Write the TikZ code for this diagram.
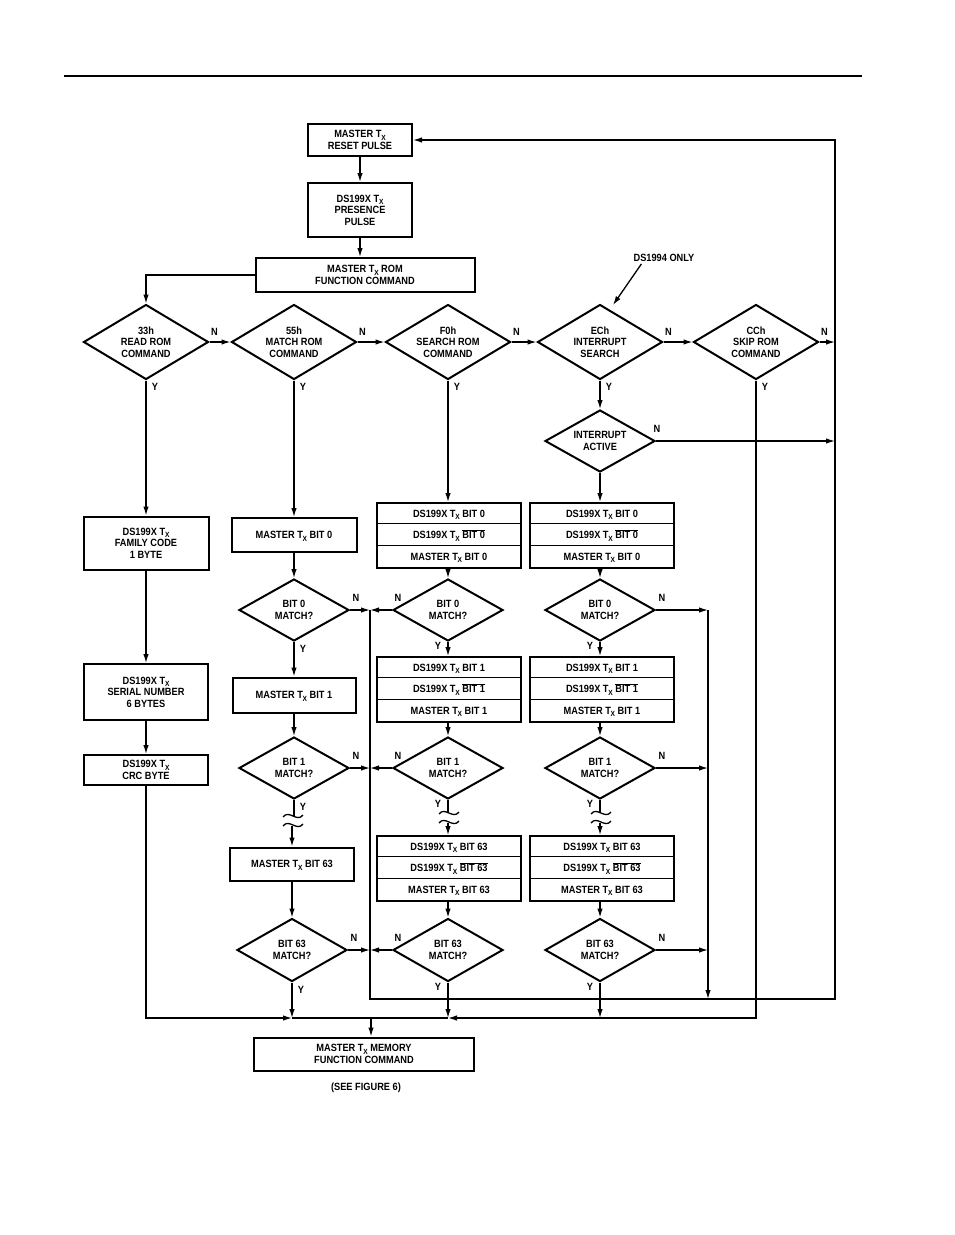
\documentclass[tikz,border=0pt]{standalone}
\usepackage{fontspec}
\setmainfont{Liberation Sans}[FakeStretch=0.88]
\usetikzlibrary{arrows.meta,shapes.geometric}
\newcommand\dgf{\bfseries\fontsize{10.5}{11.5}\selectfont}
\newcommand\Tx{T\kern-0.2pt\raisebox{-0.45ex}[0pt][0pt]{\fontsize{7.5}{7.5}\selectfont X}}
\newcommand\myovl[1]{\setbox0\hbox{#1}\rlap{\raisebox{\dimexpr\ht0+0.8pt\relax}[0pt][0pt]{\rule{\wd0}{0.8pt}}}\box0}
\tikzset{
  box/.style={draw, line width=2pt, inner sep=0pt, align=center, font=\dgf},
  dia/.style={diamond, draw, line width=2pt, inner sep=0pt},
  txt/.style={inner sep=0pt, align=center, font=\dgf},
  lab/.style={inner sep=0pt, font=\dgf},
  con/.style={line width=1.3pt},
  arr/.style={con, -{Latex[length=9pt,width=5.5pt]}},
}
% name, x, y, w, h, text
\newcommand\dianode[6]{%
  \node[dia, minimum width=#4pt, minimum height=#5pt] (#1) at (#2,#3) {};
  \node[txt] (#1t) at (#1) {#6};}
% name, x, ytop, row1, row2, row3
\newcommand\tribox[6]{%
  \node[draw, line width=2pt, inner sep=0pt, minimum width=144pt, minimum height=65pt, anchor=north] (#1) at (#2,#3) {};
  \draw[line width=1.4pt] ([yshift=-21.7pt]#1.north west) -- ([yshift=-21.7pt]#1.north east);
  \draw[line width=1.4pt] ([yshift=-43.4pt]#1.north west) -- ([yshift=-43.4pt]#1.north east);
  \node[txt] (#1a) at ([yshift=-11.5pt]#1.north) {#4};
  \node[txt] (#1b) at ([yshift=-33pt]#1.north) {#5};
  \node[txt] (#1c) at ([yshift=-54.5pt]#1.north) {#6};}
\newcommand\squig[2]{%
  \draw[con] (#1-10,#2+2) .. controls (#1-4,#2-6) and (#1+4,#2+8) .. (#1+10,#2);
  \draw[con] (#1-10,#2+11) .. controls (#1-4,#2+3) and (#1+4,#2+17) .. (#1+10,#2+9);}
\begin{document}
\begin{tikzpicture}[x=1pt,y=-1pt]
\useasboundingbox (0,0) rectangle (954,1235);
\fill[white] (0,0) rectangle (954,1235);
\draw[line width=1.4pt] (64,76) -- (862,76);

% top boxes
\node[box, minimum width=104pt, minimum height=32pt] (reset) at (360,140) {MASTER \Tx\\RESET PULSE};
\node[box, minimum width=104pt, minimum height=54pt] (pres) at (360,210) {DS199X \Tx\\PRESENCE\\PULSE};
\node[box, minimum width=219pt, minimum height=34pt] (rom) at (365,275) {MASTER \Tx{} ROM\\FUNCTION COMMAND};

% top row diamonds
\dianode{d33}{146}{342}{125}{75}{33h\\READ ROM\\COMMAND}
\dianode{d55}{294}{342}{125}{75}{55h\\MATCH ROM\\COMMAND}
\dianode{dF0}{448}{342}{125}{75}{F0h\\SEARCH ROM\\COMMAND}
\dianode{dEC}{600}{342}{125}{75}{ECh\\INTERRUPT\\SEARCH}
\dianode{dCC}{756}{342}{125}{75}{CCh\\SKIP ROM\\COMMAND}
\dianode{dIA}{600}{441}{110}{62}{INTERRUPT\\ACTIVE}

\node[lab] (ds) at (664,258) {DS1994 ONLY};
\coordinate (ecpt) at (613,305);

% left column
\node[box, minimum width=125pt, minimum height=53pt] (fam) at (146,543) {DS199X \Tx\\FAMILY CODE\\1 BYTE};
\node[box, minimum width=124pt, minimum height=56pt] (ser) at (146,692) {DS199X \Tx\\SERIAL NUMBER\\6 BYTES};
\node[box, minimum width=124pt, minimum height=30pt] (crc) at (146,770) {DS199X \Tx\\CRC BYTE};

% match column
\node[box, minimum width=125pt, minimum height=34pt] (mb0) at (294,535) {MASTER \Tx{} BIT 0};
\dianode{m0}{294}{610}{110}{62}{BIT 0\\MATCH?}
\node[box, minimum width=123pt, minimum height=35pt] (mb1) at (294,695) {MASTER \Tx{} BIT 1};
\dianode{m1}{294}{768}{110}{62}{BIT 1\\MATCH?}
\node[box, minimum width=124pt, minimum height=33pt] (mb63) at (292,864) {MASTER \Tx{} BIT 63};
\dianode{m63}{292}{950}{110}{63}{BIT 63\\MATCH?}

% search column
\tribox{sb0}{449}{502}{DS199X \Tx{} BIT 0}{DS199X \Tx{} \myovl{BIT 0}}{MASTER \Tx{} BIT 0}
\dianode{s0}{448}{610}{110}{62}{BIT 0\\MATCH?}
\tribox{sb1}{449}{656}{DS199X \Tx{} BIT 1}{DS199X \Tx{} \myovl{BIT 1}}{MASTER \Tx{} BIT 1}
\dianode{s1}{448}{768}{110}{62}{BIT 1\\MATCH?}
\tribox{sb63}{449}{835}{DS199X \Tx{} BIT 63}{DS199X \Tx{} \myovl{BIT 63}}{MASTER \Tx{} BIT 63}
\dianode{s63}{448}{950}{110}{63}{BIT 63\\MATCH?}

% interrupt column
\tribox{ib0}{602}{502}{DS199X \Tx{} BIT 0}{DS199X \Tx{} \myovl{BIT 0}}{MASTER \Tx{} BIT 0}
\dianode{i0}{600}{610}{110}{62}{BIT 0\\MATCH?}
\tribox{ib1}{602}{656}{DS199X \Tx{} BIT 1}{DS199X \Tx{} \myovl{BIT 1}}{MASTER \Tx{} BIT 1}
\dianode{i1}{600}{768}{110}{62}{BIT 1\\MATCH?}
\tribox{ib63}{602}{835}{DS199X \Tx{} BIT 63}{DS199X \Tx{} \myovl{BIT 63}}{MASTER \Tx{} BIT 63}
\dianode{i63}{600}{950}{110}{63}{BIT 63\\MATCH?}

% bottom box
\node[box, minimum width=220pt, minimum height=33pt] (mem) at (364,1054) {MASTER \Tx{} MEMORY\\FUNCTION COMMAND};
\node[lab] (see) at (366,1088) {(SEE FIGURE 6)};

% coordinates
\coordinate (topR) at (835,140);
\coordinate (botR) at (835,999);
\coordinate (L370t) at (370,610);
\coordinate (L370b) at (370,999);
\coordinate (L708t) at (708,610);
\coordinate (L708b) at (708,999);
\coordinate (B147) at (146,1018);
\coordinate (B756) at (756,1018);
\coordinate (jm) at (292,1018);
\coordinate (js) at (448,1018);
\coordinate (jmem) at (371,1018);

% top flow
\draw[arr] (reset.south) -- (pres.north);
\draw[arr] (pres.south) -- (pres.south |- rom.north);
\draw[arr] (rom.west) -| (d33.north);
\draw[arr] (d33.east) -- (d55.west);
\draw[arr] (d55.east) -- (dF0.west);
\draw[arr] (dF0.east) -- (dEC.west);
\draw[arr] (dEC.east) -- (dCC.west);
\draw[arr] (dCC.east) -- (dCC.east -| topR);
\draw[arr] (dIA.east) -- (dIA.east -| topR);
\draw[arr] (dEC.south) -- (dIA.north);
\draw[arr] ([xshift=8pt,yshift=-2pt]ds.south west) -- (ecpt);

% loop back
\draw[arr] (L370t) -- (L370b) -- (botR) -- (topR) -- (reset.east);

% left column
\draw[arr] (d33.south) -- (fam.north);
\draw[arr] (fam.south) -- (ser.north);
\draw[arr] (ser.south) -- (crc.north);

% match column
\draw[arr] (d55.south) -- (mb0.north);
\draw[arr] (mb0.south) -- (m0.north);
\draw[arr] (m0.south) -- (mb1.north);
\draw[arr] (mb1.south) -- (m1.north);
\draw[con] (m1.south) -- (294,816);
\squig{293}{815}
\draw[arr] (292,826) -- (mb63.north);
\draw[arr] (mb63.south) -- (m63.north);
\draw[arr] (m0.east) -- (m0.east -| L370t);
\draw[arr] (m1.east) -- (m1.east -| L370t);
\draw[arr] (m63.east) -- (m63.east -| L370t);

% search column
\draw[arr] (dF0.south) -- (dF0.south |- sb0.north);
\draw[arr] (sb0.south -| s0.north) -- (s0.north);
\draw[arr] (s0.south) -- (s0.south |- sb1.north);
\draw[arr] (sb1.south -| s1.north) -- (s1.north);
\draw[con] (s1.south) -- (448,813);
\squig{449}{812}
\draw[arr] (448,823) -- (448,835);
\draw[arr] (sb63.south -| s63.north) -- (s63.north);
\draw[arr] (s0.west) -- (s0.west -| L370t);
\draw[arr] (s1.west) -- (s1.west -| L370t);
\draw[arr] (s63.west) -- (s63.west -| L370t);

% interrupt column
\draw[arr] (dIA.south) -- (dIA.south |- ib0.north);
\draw[arr] (ib0.south -| i0.north) -- (i0.north);
\draw[arr] (i0.south) -- (i0.south |- ib1.north);
\draw[arr] (ib1.south -| i1.north) -- (i1.north);
\draw[con] (i1.south) -- (600,813);
\squig{601}{812}
\draw[arr] (600,823) -- (600,835);
\draw[arr] (ib63.south -| i63.north) -- (i63.north);
\draw[arr] (i0.east) -- (i0.east -| L708t);
\draw[arr] (i1.east) -- (i1.east -| L708t);
\draw[arr] (i63.east) -- (i63.east -| L708t);
\draw[arr] (L708t) -- (L708b);

% bottom collector
\draw[arr] (crc.south) -- (B147) -- (jm);
\draw[con] (jm) -- (js);
\draw[arr] (dCC.south) -- (B756) -- (js);
\draw[arr] (m63.south) -- (jm);
\draw[arr] (s63.south) -- (js);
\draw[arr] (i63.south) -- (i63.south |- js);
\draw[arr] (jmem) -- (jmem |- mem.north);

% labels
\foreach \d in {d33,d55,dF0,dEC,dCC} {
  \node[lab] at ([xshift=9pt,yshift=-6pt]\d.south) {Y};
  \node[lab] at ([xshift=5pt,yshift=10pt]\d.east) {N};
}
\node[lab] at ([xshift=1pt,yshift=12pt]dIA.east) {N};
\foreach \d in {m0,m1,m63} {
  \node[lab] at ([xshift=9pt,yshift=-7pt]\d.south) {Y};
  \node[lab] at ([xshift=6pt,yshift=12pt]\d.east) {N};
}
\foreach \d in {s0,s1,s63} {
  \node[lab] at ([xshift=-10pt,yshift=-4pt]\d.south) {Y};
  \node[lab] at ([xshift=6pt,yshift=12pt]\d.west) {N};
}
\foreach \d in {i0,i1,i63} {
  \node[lab] at ([xshift=-10pt,yshift=-4pt]\d.south) {Y};
  \node[lab] at ([xshift=6pt,yshift=12pt]\d.east) {N};
}
\end{tikzpicture}
\end{document}
